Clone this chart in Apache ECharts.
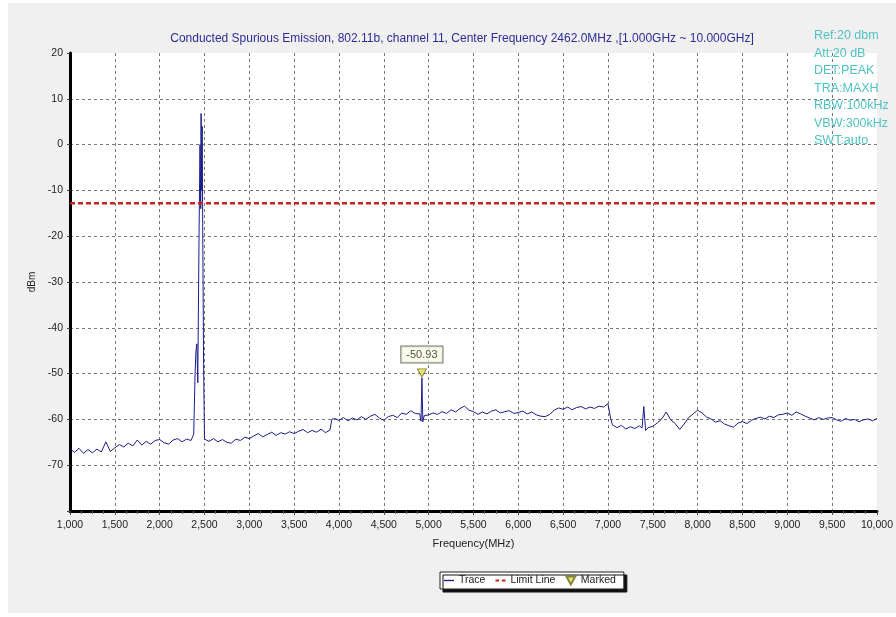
<!DOCTYPE html>
<html>
<head>
<meta charset="utf-8">
<script src="https://cdn.jsdelivr.net/npm/echarts@6/dist/echarts.min.js"></script>
<style>
  html, body { margin: 0; padding: 0; background: #fff; }
  #chart { width: 896px; height: 617px; }
</style>
</head>
<body>
<div id="chart"></div>
<script>
const titleText = 'Conducted Spurious Emission, 802.11b, channel 11, Center Frequency 2462.0MHz ,[1.000GHz ~ 10.000GHz]'
const infoLines = ['Ref:20 dbm', 'Att:20 dB', 'DET:PEAK', 'TRA:MAXH', 'RBW:100kHz', 'VBW:300kHz', 'SWT:auto']

// trace (MHz / dBm)
const traceFreq = [
  1000, 1050, 1100, 1150, 1200, 1250, 1300, 1350, 1400, 1450,
  1500, 1550, 1600, 1650, 1700, 1750, 1800, 1850, 1900, 1950,
  2000, 2050, 2100, 2150, 2200, 2250, 2300, 2350, 2380,
  2395, 2405, 2415, 2425, 2440, 2450, 2458, 2462, 2468, 2474, 2480, 2490,
  2500, 2550, 2600, 2650, 2700, 2750, 2800, 2850, 2900, 2950,
  3000, 3050, 3100, 3150, 3200, 3250, 3300, 3350, 3400, 3450,
  3500, 3550, 3600, 3650, 3700, 3750, 3800, 3850, 3900, 3920,
  3950, 4000, 4050, 4100, 4150, 4200, 4250, 4300, 4350, 4400,
  4450, 4500, 4550, 4600, 4650, 4700, 4750, 4800, 4850, 4900,
  4915, 4925, 4935, 4950, 5000, 5050, 5100, 5150, 5200, 5250,
  5300, 5350, 5400, 5450, 5500, 5550, 5600, 5650, 5700, 5750,
  5800, 5850, 5900, 5950, 6000, 6050, 6100, 6150, 6200, 6250,
  6300, 6350, 6400, 6450, 6500, 6550, 6600, 6650, 6700, 6750,
  6800, 6850, 6900, 6950, 7000, 7030, 7050, 7100, 7150, 7200,
  7250, 7300, 7350, 7380, 7400, 7420, 7450, 7500, 7550, 7600,
  7650, 7700, 7750, 7800, 7850, 7900, 7950, 8000, 8050, 8100,
  8150, 8200, 8250, 8300, 8350, 8400, 8450, 8500, 8550, 8600,
  8650, 8700, 8750, 8800, 8850, 8900, 8950, 9000, 9050, 9100,
  9150, 9200, 9250, 9300, 9350, 9400, 9450, 9500, 9550, 9600,
  9650, 9700, 9750, 9800, 9850, 9900, 9950, 10000
]
const traceLevel = [
  -66.4, -67.2, -66.3, -67.4, -66.6, -67.3, -66.5, -67.1, -64.9, -67.0,
  -66.2, -65.5, -66.0, -65.2, -65.8, -64.5, -65.6, -64.8, -65.4, -64.6,
  -64.4, -65.1, -65.4, -64.5, -64.2, -64.9, -64.3, -64.6, -63.2,
  -50.0, -45.0, -43.5, -52.0, -18.0, 0.0, -14.0, 6.8, -10.0, 4.0, -17.0, -48.0,
  -64.3, -64.8, -64.2, -64.9, -64.4, -65.0, -65.2, -64.3, -64.6, -63.9,
  -64.2, -63.6, -63.1, -63.8, -63.3, -62.8, -63.5, -62.9, -63.2, -62.7,
  -63.1, -62.6, -62.2, -62.9, -62.4, -62.8, -62.1, -62.9, -62.3, -60.0,
  -59.8, -60.2, -59.6, -60.3, -59.7, -60.1, -59.4, -60.0, -59.3, -58.9,
  -59.7, -60.2, -59.4, -59.1, -59.6, -58.6, -58.9, -58.1, -58.7, -58.8,
  -60.4, -50.93, -60.5, -59.2, -59.0, -58.6, -58.9, -58.3, -58.7, -57.9,
  -58.4, -57.6, -57.1, -58.0, -58.3, -58.9, -58.4, -58.8, -58.2, -57.9,
  -58.6, -58.3, -58.1, -58.7, -58.5, -58.2, -58.8, -58.4, -59.0, -59.3,
  -59.4, -58.9, -58.0, -57.5, -57.8, -57.3, -57.9, -57.4, -57.2, -57.7,
  -57.3, -57.6, -57.1, -57.3, -56.6, -59.8, -61.2, -61.8, -61.3, -62.1,
  -61.6, -62.0, -61.4, -61.9, -57.2, -62.4, -61.8, -61.5, -60.8, -59.9,
  -58.4, -60.1, -60.9, -62.2, -61.0, -59.6, -58.8, -58.0, -58.6, -59.5,
  -59.9, -60.6, -60.3, -61.0, -61.4, -61.7, -60.8, -60.5, -60.9, -60.2,
  -59.8, -59.5, -59.9, -59.3, -59.6, -59.0, -58.9, -58.6, -59.1, -58.4,
  -58.8, -59.3, -59.7, -60.1, -59.6, -60.0, -59.7, -59.6, -60.1, -60.4,
  -59.8, -60.2, -60.0, -60.5, -60.1, -59.9, -60.3, -59.8
]
const limitLevel = -12.8
const markedFreq = 4925
const markedLevel = -50.93

const chart = echarts.init(document.getElementById('chart'))
const font = '"Liberation Sans", Arial, sans-serif'

chart.setOption({
  backgroundColor: '#fff',
  textStyle: { fontFamily: font },
  animation: false,
  graphic: [{
    type: 'rect', z: -10, silent: true,
    shape: { x: 8, y: 3, width: 888, height: 610 },
    style: { fill: '#f0f0f0' }
  }],
  title: [{
    text: titleText,
    left: 457, top: 28, textAlign: 'center',
    textStyle: { color: '#2b2b9a', fontSize: 12, fontWeight: 'normal', fontFamily: font }
  }, {
    text: infoLines.join('\n'),
    left: 809, top: 22,
    textStyle: { color: '#4fc2c2', fontSize: 12.5, fontWeight: 'normal', lineHeight: 17.5, fontFamily: font }
  }],
  grid: { left: 70, right: 14, top: 53, bottom: 106, show: true, backgroundColor: '#fff', borderWidth: 0 },
  legend: {
    left: 440, top: 572,
    data: [
      { name: 'Trace', icon: 'path://M0,0H12V1.6H0Z' },
      { name: 'Limit Line', icon: 'path://M0,0H4V2H0ZM7,0H11V2H7Z' },
      { name: 'Marked', icon: 'path://M0,0L10,0L5,9Z' }
    ],
    backgroundColor: '#fff', borderColor: '#222', borderWidth: 1,
    shadowColor: '#111', shadowOffsetX: 3, shadowOffsetY: 3, shadowBlur: 0,
    padding: [3, 8, 3, 4], itemGap: 10, itemWidth: 10, itemHeight: 8,
    textStyle: { fontSize: 10.5, color: '#222', fontFamily: font }
  },
  xAxis: {
    type: 'value', min: 1000, max: 10000, interval: 500,
    name: 'Frequency(MHz)', nameLocation: 'middle', nameGap: 27,
    nameTextStyle: { fontSize: 11, color: '#222' },
    axisLine: { onZero: false, lineStyle: { color: '#000', width: 3 } },
    axisTick: { length: 4, lineStyle: { color: '#444' } },
    minorTick: { show: true, splitNumber: 4, length: 3, lineStyle: { color: '#666' } },
    axisLabel: { fontSize: 10.5, color: '#222', margin: 9, formatter: v => v.toLocaleString('en-US') },
    splitLine: { show: true, showMinLine: false, showMaxLine: false, lineStyle: { color: '#777', type: [3, 3], width: 1 } }
  },
  yAxis: {
    type: 'value', min: -80, max: 20, interval: 10,
    name: 'dBm', nameLocation: 'middle', nameGap: 33, nameRotate: 90,
    nameTextStyle: { fontSize: 10, color: '#222' },
    axisLine: { show: true, onZero: false, lineStyle: { color: '#000', width: 3 } },
    axisTick: { show: true, length: 3, lineStyle: { color: '#444' } },
    axisLabel: { fontSize: 10.5, color: '#222', margin: 7, formatter: v => (v === -80 ? '' : v) },
    splitLine: { show: true, showMinLine: false, showMaxLine: false, lineStyle: { color: '#777', type: [3, 3], width: 1 } }
  },
  series: [{
    name: 'Trace', type: 'line', symbol: 'none',
    data: traceFreq.map((f, i) => [f, traceLevel[i]]),
    lineStyle: { color: '#1c1c8c', width: 1 },
    itemStyle: { color: '#1c1c8c' },
    z: 3
  }, {
    name: 'Limit Line', type: 'line', symbol: 'none',
    data: [[1000, limitLevel], [10000, limitLevel]],
    lineStyle: { color: '#cc2020', width: 2.5, type: [5, 3] },
    itemStyle: { color: '#cc2020' },
    z: 4
  }, {
    name: 'Marked', type: 'scatter',
    data: [[markedFreq, markedLevel]],
    symbol: 'triangle', symbolRotate: 180, symbolSize: [9, 8], symbolOffset: [0, -5],
    itemStyle: { color: '#e6e04a', borderColor: '#6a6a20', borderWidth: 1 },
    label: {
      show: true, position: 'top', distance: 6,
      formatter: p => p.value[1].toFixed(2),
      backgroundColor: '#fbfbe6', borderColor: '#555', borderWidth: 1,
      padding: [3, 5, 2, 5], fontSize: 11, color: '#222'
    },
    z: 5
  }]
})
</script>
</body>
</html>
